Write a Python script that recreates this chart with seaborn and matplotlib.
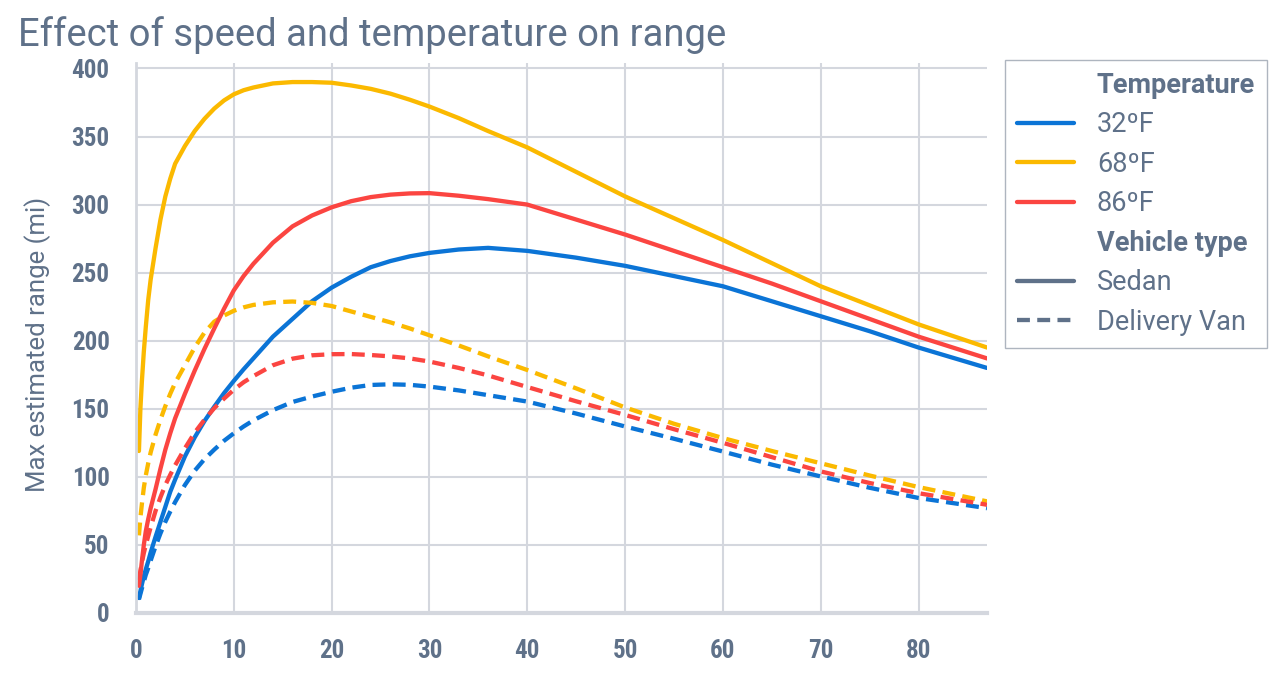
import matplotlib.pyplot as plt
import pandas as pd
import seaborn as sns

# speed (x) and estimated range (y)
speed = [0.3, 0.45, 0.6, 0.8, 1, 1.25, 1.5, 2, 2.5, 3, 3.5, 4, 5, 6, 7, 8, 9, 10, 11, 12,
         14, 16, 18, 20, 22, 24, 26, 28, 30, 33, 36, 40, 45, 50, 55, 60, 65, 70, 75, 80, 87]

sedan_32 = [11, 16, 21, 27, 32, 38, 44.5, 56, 67, 78, 89, 98, 115, 129, 141, 151.5, 161.5, 170.5, 179, 187,
            203, 216, 229, 239, 247, 254, 258.5, 262, 264.5, 267, 268.2, 266, 261, 255, 247.5, 240, 229, 218, 207, 195, 180]
sedan_68 = [119, 150, 170, 192, 210, 230, 245, 268, 289, 306, 319, 330, 343, 354, 363, 370.5, 376.5, 381, 384, 386,
            389, 390, 390, 389.5, 387.5, 385, 381.5, 377, 372, 363.5, 354, 342, 324, 306, 290, 274, 257, 240, 226, 212, 195]
sedan_86 = [20, 28, 38, 50, 60, 69, 77, 91, 106, 120, 132, 143, 161, 178, 194, 209, 223.5, 237, 247.5, 256.5,
            272, 284, 292, 298, 302.5, 305.5, 307.3, 308.2, 308.4, 306.5, 304, 300, 289, 278, 266, 254, 242, 229, 216, 203, 187]
van_32 = [10, 14, 18, 23, 28, 33, 38.5, 49, 58.5, 67, 74.5, 81.5, 94, 104.5, 113, 120, 126.5, 132, 137, 141.5,
          149, 155, 159, 162.5, 165.5, 167.5, 168, 167.6, 166.3, 163.5, 160, 155.3, 146.5, 137, 128, 118.6, 109, 100.3, 92, 84.5, 77]
van_68 = [57, 70, 80, 92, 101, 110, 118, 131, 142, 152, 161, 169, 182, 195, 206, 214, 218.5, 222, 224.5, 226.3,
          228.2, 228.8, 227.8, 225.5, 221.5, 217.5, 213.5, 209, 204, 196.5, 188.5, 178.5, 165, 151, 139, 128.5, 119, 110, 101, 92.5, 82]
van_86 = [24, 31, 37, 44, 50, 56.5, 63, 75, 85, 94, 101.5, 108.5, 121, 132.5, 142, 150.5, 157.5, 164, 169.5, 174,
          182, 186.8, 189.3, 190.1, 190.2, 189.5, 188.5, 187, 184.7, 180, 174.5, 166, 155.5, 145.5, 135, 125, 114.5, 104, 95.5, 88, 79.5]

temps = ["32ºF", "68ºF", "86ºF"]
vehicles = ["Sedan", "Delivery Van"]
colors = ["#0b74d6", "#fbb900", "#fb4541"]
x_ticks = [0, 10, 20, 30, 40, 50, 60, 70, 80]
y_ticks = [0, 50, 100, 150, 200, 250, 300, 350, 400]

series = {
    ("32ºF", "Sedan"): sedan_32,
    ("68ºF", "Sedan"): sedan_68,
    ("86ºF", "Sedan"): sedan_86,
    ("32ºF", "Delivery Van"): van_32,
    ("68ºF", "Delivery Van"): van_68,
    ("86ºF", "Delivery Van"): van_86,
}
rows = []
for (t, v), vals in series.items():
    for s, r in zip(speed, vals):
        rows.append({"Speed": s, "Range": r, "Temperature": t, "Vehicle type": v})
df = pd.DataFrame(rows)

slate = "#5f7189"
grid = "#d4d7de"

sns.set_theme(style="whitegrid")
plt.rcParams["font.family"] = ["Roboto", "DejaVu Sans"]
plt.rcParams["lines.solid_joinstyle"] = "round"
plt.rcParams["lines.dash_joinstyle"] = "round"

fig = plt.figure(figsize=(12.8, 6.74), dpi=100)
ax = fig.add_axes([136 / 1280, 1 - 613 / 674, (987 - 136) / 1280, 550 / 674])

sns.lineplot(data=df, x="Speed", y="Range", hue="Temperature", style="Vehicle type",
             hue_order=temps, style_order=vehicles, palette=colors,
             dashes={"Sedan": "", "Delivery Van": (3, 1.7)},
             linewidth=3.1, estimator=None, errorbar=None, ax=ax)

ax.set_xlim(0, 87)
ax.set_ylim(0, 404)
ax.set_xticks(x_ticks)
ax.set_yticks(y_ticks)
ax.grid(True, color=grid, linewidth=1.5)
ax.set_axisbelow(True)
ax.set_facecolor("white")
for side in ["top", "right"]:
    ax.spines[side].set_visible(False)
ax.spines["left"].set_color(grid)
ax.spines["left"].set_linewidth(2)
ax.spines["bottom"].set_color(grid)
ax.spines["bottom"].set_linewidth(3)

ax.tick_params(axis="both", length=0, pad=19, colors=slate)
for lbl in ax.get_xticklabels() + ax.get_yticklabels():
    lbl.set_fontfamily(["Roboto Condensed", "Liberation Sans Narrow", "Roboto"])
    lbl.set_fontweight("bold")
    lbl.set_fontsize(18)

ax.set_xlabel("")
ax.set_ylabel("Max estimated range (mi)", fontsize=18.5, color=slate)
ax.yaxis.set_label_coords(-0.100, 0.489)

fig.text(18 / 1280, 1 - 46 / 674, "Effect of speed and temperature on range",
         fontsize=27.5, color=slate, va="baseline", ha="left")

handles, labels = ax.get_legend_handles_labels()
for h, l in zip(handles, labels):
    if l in vehicles:
        h.set_color(slate)
leg = ax.legend(handles, labels, loc="upper left", bbox_to_anchor=(1.021, 1.006),
                borderaxespad=0, frameon=True, fancybox=False, fontsize=19.5,
                handlelength=2.1, handletextpad=0.85, labelspacing=0.46, borderpad=0.45)
leg.get_frame().set_edgecolor("#9aa3b0")
leg.get_frame().set_linewidth(1)
for txt in leg.get_texts():
    txt.set_color(slate)
    if txt.get_text() in ["Temperature", "Vehicle type"]:
        txt.set_fontweight("bold")

fig.savefig("out.png", dpi=100, facecolor="white")
